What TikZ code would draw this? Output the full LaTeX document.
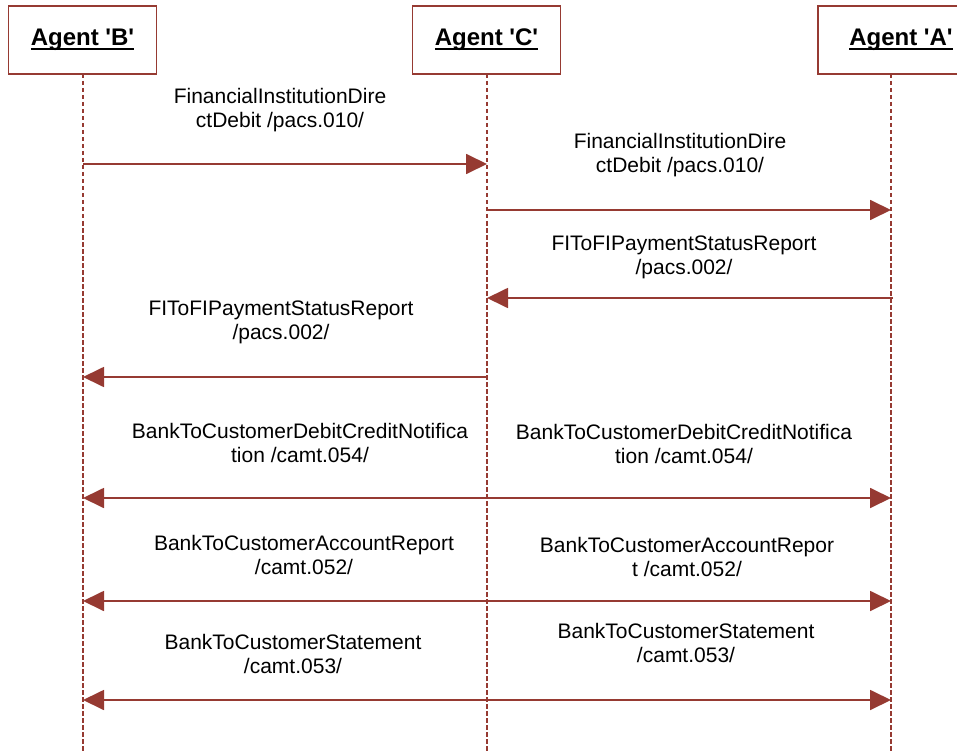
\documentclass[tikz,border=0pt]{standalone}
\usepackage{fontspec}
\setmainfont{Liberation Sans}
\usetikzlibrary{arrows.meta}
\definecolor{wine}{HTML}{963A32}
\newcommand{\agentul}[1]{\setbox0=\hbox{#1}\rlap{\copy0}\rule[-4.5pt]{\wd0}{2.4pt}}

\begin{document}
\begin{tikzpicture}[x = 1pt, y = -1pt,
	agent/.style = {draw = wine, line width = 1.6pt, fill = white, minimum width = 148pt, minimum height = 68pt, inner sep = 0pt, font = \fontsize{24}{28}\selectfont\bfseries},
	life/.style = {draw = wine, line width = 1.5pt, dash pattern = on 4.5pt off 2.5pt},
	msg/.style = {draw = wine, line width = 1.8pt, -{Triangle[length = 21pt, width = 20pt]}},
	lbl/.style = {align = center, inner sep = 0pt, font = \fontsize{21}{24}\selectfont}]
				\useasboundingbox (0,0) rectangle (957,751);
				\clip (0,0) rectangle (957,751);
				\node[agent] (B) at (82.5,40) {\agentul{Agent \textquotesingle B\textquotesingle}};
				\node[agent] (C) at (486.5,40) {\agentul{Agent \textquotesingle C\textquotesingle}};
				\node[agent, minimum width = 166pt] (A) at (901,40) {\agentul{Agent \textquotesingle A\textquotesingle}};
				\coordinate (Btop) at (83,74);
				\coordinate (Bbot) at (83,751);
				\coordinate (Ctop) at (487,74);
				\coordinate (Cbot) at (487,751);
				\coordinate (Atop) at (891,74);
				\coordinate (Abot) at (891,751);
				\draw[life] (Btop) -- (Bbot);
				\draw[life] (Ctop) -- (Cbot);
				\draw[life] (Atop) -- (Abot);
				\coordinate (B1) at (83,164);
				\coordinate (C1) at (487,164);
				\coordinate (C2) at (487,210);
				\coordinate (A2) at (891,210);
				\coordinate (A3) at (893,298);
				\coordinate (C3) at (487,298);
				\coordinate (C4) at (487,377);
				\coordinate (B4) at (83,377);
				\coordinate (B5) at (83,498);
				\coordinate (C5) at (487,498);
				\coordinate (A5) at (891,498);
				\coordinate (B6) at (83,601);
				\coordinate (C6) at (487,601);
				\coordinate (A6) at (891,601);
				\coordinate (B7) at (83,700);
				\coordinate (C7) at (487,700);
				\coordinate (A7) at (891,700);
				\node[lbl] (m1) at (280,110) {FinancialInstitutionDire\\ctDebit /pacs.010/};
				\node[lbl] (m2) at (680,155) {FinancialInstitutionDire\\ctDebit /pacs.010/};
				\node[lbl] (m3) at (684,257) {FIToFIPaymentStatusReport\\/pacs.002/};
				\node[lbl] (m4) at (281,322) {FIToFIPaymentStatusReport\\/pacs.002/};
				\node[lbl] (m5) at (300,443) {BankToCustomerDebitCreditNotifica\\tion /camt.054/};
				\node[lbl] (m6) at (684,444) {BankToCustomerDebitCreditNotifica\\tion /camt.054/};
				\node[lbl] (m7) at (304,555) {BankToCustomerAccountReport\\/camt.052/};
				\node[lbl] (m8) at (687,557) {BankToCustomerAccountRepor\\t /camt.052/};
				\node[lbl] (m9) at (293,654) {BankToCustomerStatement\\/camt.053/};
				\node[lbl] (m10) at (686,643) {BankToCustomerStatement\\/camt.053/};
				\draw[msg] (B1) -- (C1);
				\draw[msg] (C2) -- (A2);
				\draw[msg] (A3) -- (C3);
				\draw[msg] (C4) -- (B4);
				\draw[msg] (C5) -- (B5);
				\draw[msg] (C5) -- (A5);
				\draw[msg] (C6) -- (B6);
				\draw[msg] (C6) -- (A6);
				\draw[msg] (C7) -- (B7);
				\draw[msg] (C7) -- (A7);
			\end{tikzpicture}
\end{document}
